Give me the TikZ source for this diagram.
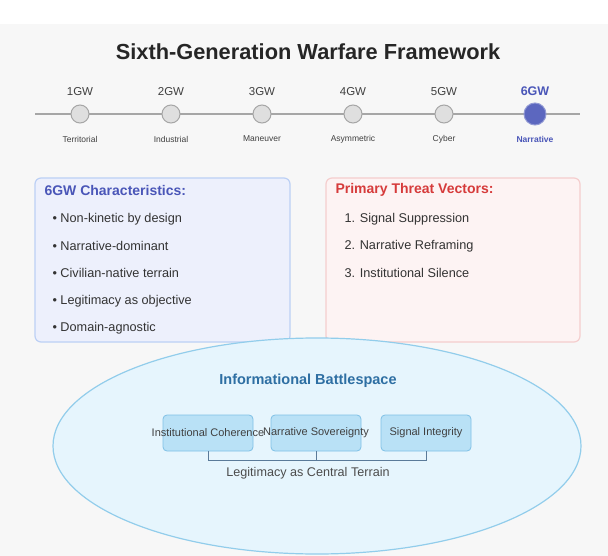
\documentclass[tikz,border=0pt]{standalone}
\usepackage{fontspec}
\setmainfont{Liberation Sans}
\begin{document}
\begin{tikzpicture}[x=1pt,y=-1pt,
  dot/.style={circle,draw=gray!70,fill=gray!25,line width=1pt,minimum size=18pt,inner sep=0},
  gen/.style={font=\fontsize{11.5}{13}\selectfont,text=gray!50!black},
  era/.style={font=\fontsize{8.5}{10}\selectfont,text=gray!50!black},
  item/.style={anchor=west,font=\fontsize{12.7}{14}\selectfont,text=black!80},
  sbox/.style={draw=sbd,fill=sbf,rounded corners=4pt,minimum width=90pt,minimum height=36pt,line width=0.8pt},
  stx/.style={font=\fontsize{11}{13}\selectfont,text=black!75}]
\definecolor{bg}{HTML}{F7F7F7}
\definecolor{navy}{HTML}{4A56B8}
\definecolor{redt}{HTML}{D63B3B}
\definecolor{sbf}{HTML}{B9E1F6}
\definecolor{sbd}{HTML}{7FC0E6}
\definecolor{elf}{HTML}{E6F5FD}
\definecolor{eld}{HTML}{92CDEB}
\definecolor{elt}{HTML}{2E6FA3}
\definecolor{brk}{HTML}{5A7A99}
\definecolor{lbf}{HTML}{EDF0FC}
\definecolor{lbd}{HTML}{BCD0F5}
\fill[white] (0,0) rectangle (608,556);
\fill[bg] (0,24) rectangle (608,556);
\node[font=\bfseries\fontsize{21.8}{26}\selectfont,text=black!85] (title) at (308,52) {Sixth-Generation Warfare Framework};
\draw[gray!70,line width=1.2pt] (35,114) coordinate (l0) -- (580,114) coordinate (l1);
\foreach \i/\x/\e in {1/80/Territorial,2/171/Industrial,3/262/Maneuver,4/353/Asymmetric,5/444/Cyber}{
  \node[dot] (d\i) at (\x,114) {};
  \node[gen] (g\i) at (\x,92) {\i GW};
  \node[era] (e\i) at (\x,139) {\e};
}
\node[circle,draw=navy!60,fill=navy!90,line width=1pt,minimum size=22pt,inner sep=0] (d6) at (535,114) {};
\node[font=\bfseries\fontsize{12.5}{14}\selectfont,text=navy] (g6) at (535,91) {6GW};
\node[font=\bfseries\fontsize{8.5}{10}\selectfont,text=navy] (e6) at (535,139) {Narrative};
% left box
\draw[draw=lbd,fill=lbf,rounded corners=6pt,line width=1.2pt] (35,178) rectangle (290,342);
\node[anchor=west,font=\bfseries\fontsize{14}{16}\selectfont,text=navy] (lt) at (41,190) {6GW Characteristics:};
\foreach \y/\t [count=\k] in {219/Non-kinetic by design,246/Narrative-dominant,273/Civilian-native terrain,301/Legitimacy as objective,328/Domain-agnostic}
  \node[item] (li\k) at (49,\y) {• \t};
% right box
\draw[draw=redt!25,fill=redt!6!white,rounded corners=6pt,line width=1.2pt] (326,178) rectangle (580,342);
\node[anchor=west,font=\bfseries\fontsize{14}{16}\selectfont,text=redt] (rt) at (332,190) {Primary Threat Vectors:};
\foreach \y/\t [count=\k] in {219/Signal Suppression,246/Narrative Reframing,273/Institutional Silence}
  \node[item] (ri\k) at (341,\y) {\k. \t};
% ellipse
\draw[draw=eld,fill=elf,line width=1.2pt] (317,446) ellipse [x radius=264,y radius=108];
\node[font=\bfseries\fontsize{14.5}{17}\selectfont,text=elt] (bt) at (308,381) {Informational Battlespace};
\node[sbox] (b1) at (208,433) {};
\node[sbox] (b2) at (316,433) {};
\node[sbox] (b3) at (426,433) {};
\node[stx] at (b1) {Institutional Coherence};
\node[stx] at (b2) {Narrative Sovereignty};
\node[stx] at (b3) {Signal Integrity};
\draw[brk,line width=0.8pt] (b1.south) -- ++(0,9) -| (b3.south);
\draw[brk,line width=0.8pt] (b2.south) -- ++(0,9);
\node[font=\fontsize{12.6}{15}\selectfont,text=black!70] (lg) at (308,473) {Legitimacy as Central Terrain};
\end{tikzpicture}
\end{document}
